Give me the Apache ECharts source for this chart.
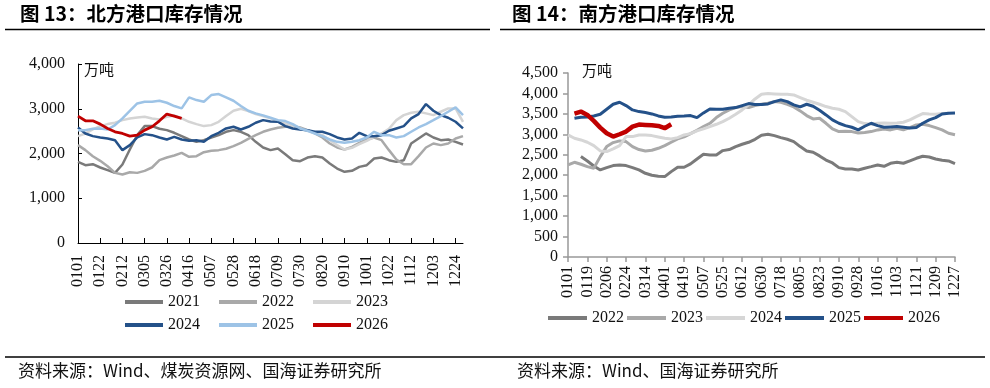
<!DOCTYPE html>
<html><head><meta charset="utf-8">
<script src="https://cdn.jsdelivr.net/npm/echarts@6/dist/echarts.min.js"></script>
<style>html,body{margin:0;padding:0;background:#fff}#c{width:990px;height:388px}</style>
</head><body><div id="c"></div>
<script>
// ---------- Left chart: 北方港口库存 (weekly) ----------
var catsN = ['0101','0108','0115','0122','0129','0205','0212','0219','0226','0305','0312','0319','0326','0402','0409','0416','0423','0430','0507','0514','0521','0528','0604','0611','0618','0625','0702','0709','0716','0723','0730','0806','0813','0820','0827','0903','0910','0917','0924','1001','1008','1015','1022','1029','1105','1112','1119','1126','1203','1210','1217','1224','1231'];
var n2021 = [1813,1739,1761,1687,1627,1567,1754,2090,2410,2612,2612,2552,2522,2463,2388,2313,2261,2298,2358,2410,2485,2522,2485,2410,2261,2134,2075,2112,1985,1851,1828,1910,1940,1910,1776,1664,1590,1612,1701,1739,1888,1910,1851,1813,1851,2224,2336,2448,2358,2298,2313,2261,2201];
var n2022 = [2187,2075,1940,1836,1716,1567,1530,1582,1567,1612,1687,1851,1910,1955,2015,1925,1940,2030,2060,2075,2105,2164,2239,2328,2410,2485,2537,2575,2597,2612,2582,2522,2448,2358,2224,2134,2090,2149,2239,2313,2358,2298,2075,1866,1761,1761,1940,2134,2224,2187,2224,2336,2388];
var n2023 = [2388,2448,2537,2612,2657,2687,2746,2784,2806,2821,2784,2761,2821,2851,2784,2709,2657,2612,2634,2709,2836,2955,3000,2948,2881,2836,2784,2731,2672,2612,2560,2508,2463,2410,2298,2187,2090,2127,2209,2284,2373,2448,2552,2746,2858,2911,2933,2896,2858,2933,3008,3008,2709];
var n2024 = [2582,2448,2388,2358,2336,2298,2075,2187,2358,2433,2410,2358,2313,2373,2313,2284,2298,2261,2388,2463,2560,2597,2537,2597,2687,2746,2716,2709,2612,2560,2537,2522,2485,2485,2433,2358,2313,2336,2463,2388,2388,2410,2508,2560,2612,2784,2881,3105,2955,2858,2799,2709,2560];
var n2025 = [2522,2522,2552,2560,2537,2634,2784,2955,3119,3157,3157,3179,3134,3060,3008,3254,3194,3157,3306,3328,3254,3179,3060,2955,2896,2851,2799,2746,2724,2657,2560,2508,2448,2388,2313,2261,2239,2261,2298,2358,2485,2410,2410,2358,2388,2485,2582,2657,2746,2836,2933,3030,2858];
var n2026 = [2836,2731,2731,2657,2560,2485,2448,2388,2410,2522,2597,2731,2881,2836,2784];
var yTicksN = [0,1000,2000,3000,4000];

// ---------- Right chart: 南方港口库存 (6-day) ----------
var catsS = ['0101','0107','0113','0119','0125','0131','0206','0212','0218','0224','0302','0308','0314','0320','0326','0401','0407','0413','0419','0425','0501','0507','0513','0519','0525','0531','0606','0612','0618','0624','0630','0706','0712','0718','0724','0730','0805','0811','0817','0823','0829','0904','0910','0916','0922','0928','1004','1010','1016','1022','1028','1103','1109','1115','1121','1127','1203','1209','1215','1221','1227'];
var s2022 = ['-','-',2455,2349,2227,2129,2186,2235,2251,2235,2186,2129,2047,1998,1974,1966,2088,2194,2194,2276,2398,2512,2496,2496,2602,2627,2700,2757,2806,2879,2977,3002,2969,2920,2879,2822,2700,2594,2561,2472,2370,2300,2186,2153,2153,2129,2170,2210,2251,2219,2292,2317,2292,2349,2414,2463,2447,2398,2366,2349,2284];
var s2023 = [2251,2317,2268,2210,2170,2455,2700,2798,2839,2822,2700,2627,2594,2610,2659,2724,2806,2888,2937,3018,3100,3189,3271,3410,3516,3597,3654,3679,3654,3703,3736,3760,3801,3785,3736,3671,3573,3459,3377,3393,3271,3132,3067,3075,3067,3034,3043,3067,3108,3132,3108,3149,3108,3165,3230,3246,3214,3165,3108,3026,2990];
var s2024 = [2985,2904,2863,2806,2724,2594,2578,2643,2724,2945,2945,2985,2985,2969,2937,2904,2888,2920,2985,3018,3083,3132,3189,3246,3312,3393,3491,3597,3720,3866,3981,3997,3989,3981,3981,3964,3899,3834,3785,3736,3679,3638,3614,3556,3434,3312,3263,3246,3271,3279,3271,3279,3295,3352,3434,3508,3499,3491,3508,3516,'-'];
var s2025 = ['-',3393,3418,3426,3450,3491,3614,3736,3785,3703,3597,3556,3532,3499,3450,3418,3426,3442,3450,3459,3409,3524,3622,3614,3614,3638,3654,3703,3752,3728,3728,3744,3801,3842,3801,3720,3671,3736,3687,3589,3475,3352,3271,3214,3173,3108,3198,3271,3214,3173,3181,3189,3173,3157,3165,3271,3352,3409,3499,3516,3524];
var s2026 = ['-',3508,3556,3475,3328,3165,3026,2945,3002,3067,3189,3238,3230,3222,3206,3149,3246];
var yTicksS = [0,500,1000,1500,2000,2500,3000,3500,4000,4500];

var serif = '"Liberation Serif","Times New Roman",serif';
var cjk = '"Noto Sans CJK SC","Noto Sans",sans-serif';
function fmt(v){ return String(v).replace(/\B(?=(\d{3})+(?!\d))/g, ','); }
function ln(name, data, color, width, xi, z){
  return {name:name, type:'line', data:data, xAxisIndex:xi, yAxisIndex:xi, showSymbol:false, symbol:'none',
    lineStyle:{color:color, width:width}, itemStyle:{color:color}, z:z||2, silent:true, animation:false};
}
var chart = echarts.init(document.getElementById('c'), null, {renderer:'canvas'});
chart.setOption({
  backgroundColor:'#fff',
  animation:false,
  grid:[
    {left:78, right:527, top:64, bottom:145},
    {left:568, right:35, top:73, bottom:131}
  ],
  xAxis:[
    {type:'category', gridIndex:0, data:catsN, boundaryGap:false,
     axisLine:{lineStyle:{color:'#000', width:1}},
     axisTick:{inside:true, length:5, interval:2, lineStyle:{color:'#000'}},
     axisLabel:{interval:2, rotate:90, margin:12, fontFamily:serif, fontSize:16, color:'#111'}},
    {type:'category', gridIndex:1, data:catsS, boundaryGap:false,
     axisLine:{lineStyle:{color:'#999', width:1.5}},
     axisTick:{inside:false, length:5, interval:2, lineStyle:{color:'#999', width:1.5}},
     axisLabel:{interval:2, rotate:90, margin:9, fontFamily:serif, fontSize:16, color:'#111'}}
  ],
  yAxis:[
    {type:'value', gridIndex:0, min:yTicksN[0], max:yTicksN[yTicksN.length-1], interval:1000,
     axisLine:{show:true, lineStyle:{color:'#000', width:1}},
     axisTick:{show:true, inside:true, length:4, lineStyle:{color:'#000'}},
     splitLine:{show:false},
     axisLabel:{formatter:fmt, margin:13, fontFamily:serif, fontSize:16, color:'#111'}},
    {type:'value', gridIndex:1, min:yTicksS[0], max:yTicksS[yTicksS.length-1], interval:500,
     axisLine:{show:true, lineStyle:{color:'#999', width:1.5}},
     axisTick:{show:true, inside:false, length:5, lineStyle:{color:'#999', width:1.5}},
     splitLine:{show:false},
     axisLabel:{formatter:fmt, margin:10, fontFamily:serif, fontSize:16, color:'#111'}}
  ],
  legend:[
    {left:125, top:294, padding:0, itemWidth:38, itemHeight:4, itemGap:19, icon:'rect',
     data:['L2021','L2022','L2023'], formatter:function(n){return n.slice(1);},
     textStyle:{fontFamily:serif, fontSize:16, color:'#111'}},
    {left:125, top:317, padding:0, itemWidth:38, itemHeight:4, itemGap:19, icon:'rect',
     data:['L2024','L2025','L2026'], formatter:function(n){return n.slice(1);},
     textStyle:{fontFamily:serif, fontSize:16, color:'#111'}},
    {left:548, top:310, padding:0, itemWidth:39, itemHeight:4, itemGap:3, icon:'rect',
     data:['R2022','R2023','R2024','R2025','R2026'], formatter:function(n){return n.slice(1);},
     textStyle:{fontFamily:serif, fontSize:16, color:'#111'}}
  ],
  series:[
    ln('L2021', n2021, '#7a7a7a', 2.5, 0),
    ln('L2022', n2022, '#a9a9a9', 2.5, 0),
    ln('L2023', n2023, '#d4d4d4', 2.5, 0),
    ln('L2024', n2024, '#245189', 2.5, 0),
    ln('L2025', n2025, '#9dc3e6', 2.5, 0),
    ln('L2026', n2026, '#c00000', 2.8, 0, 5),
    ln('R2022', s2022, '#7a7a7a', 3, 1),
    ln('R2023', s2023, '#a9a9a9', 3, 1),
    ln('R2024', s2024, '#d6d6d6', 3, 1),
    ln('R2025', s2025, '#245189', 3, 1, 4),
    ln('R2026', s2026, '#c00000', 4.5, 1, 5)
  ],
  graphic:[
    {type:'text', left:20, top:4, style:{text:'图 13：北方港口库存情况', font:'bold 19.5px '+cjk, fill:'#000'}},
    {type:'text', left:512, top:4, style:{text:'图 14：南方港口库存情况', font:'bold 19.5px '+cjk, fill:'#000'}},
    {type:'line', shape:{x1:5, y1:29.5, x2:490, y2:29.5}, style:{stroke:'#000', lineWidth:1.5}},
    {type:'line', shape:{x1:500, y1:29.5, x2:985, y2:29.5}, style:{stroke:'#000', lineWidth:1.5}},
    {type:'line', shape:{x1:5, y1:357, x2:985, y2:357}, style:{stroke:'#000', lineWidth:1.5}},
    {type:'text', left:84, top:62, style:{text:'万吨', font:'15px '+cjk, fill:'#111'}},
    {type:'text', left:582, top:63, style:{text:'万吨', font:'15px '+cjk, fill:'#111'}},
    {type:'text', left:18, top:362, style:{text:'资料来源：Wind、煤炭资源网、国海证券研究所', font:'17px '+cjk, fill:'#111'}},
    {type:'text', left:517, top:362, style:{text:'资料来源：Wind、国海证券研究所', font:'17px '+cjk, fill:'#111'}}
  ]
});
</script>
</body></html>
